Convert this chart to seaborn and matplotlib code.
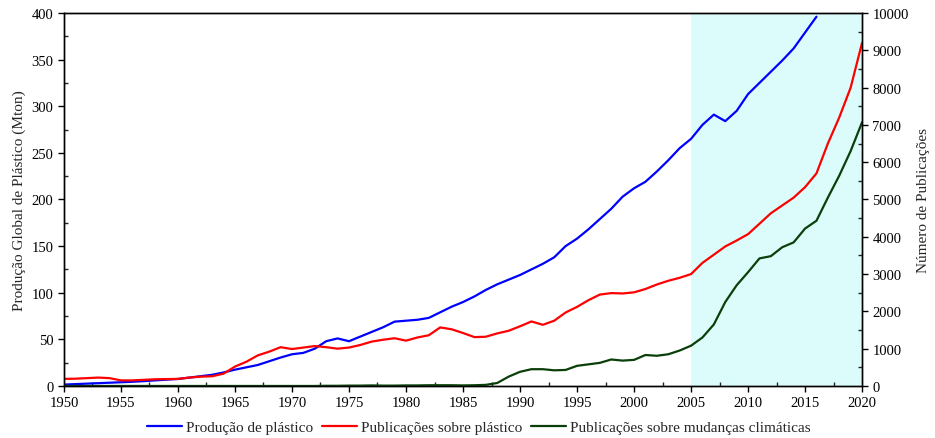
import numpy as np
import pandas as pd
import matplotlib
matplotlib.use("Agg")
import matplotlib.pyplot as plt
from matplotlib.ticker import MultipleLocator
import seaborn as sns

# Global plastic production (Mton), 1950-2016
prod_years = list(range(1950, 2017))
producao = [1.5, 2, 2.5, 3, 3.5, 4, 4.5, 5.2, 6, 6.8, 7.5, 9, 10.5, 12, 14.5, 17.5,
            20, 22.5, 26.5, 30.5, 34, 35.5, 40, 48, 51, 48, 53, 58, 63, 69,
            70, 71, 73, 79, 85, 90, 96, 103, 109, 114, 119, 125, 131, 138, 150, 158,
            168, 179, 190, 203, 212, 219, 230, 242, 255, 265, 280, 291, 284, 295,
            313, 325, 337, 349, 362, 379, 396]

# Publications per year, 1950-2020
pub_years = list(range(1950, 2021))
pub_plastico = [190, 195, 210, 225, 210, 150, 150, 165, 180, 185,
                190, 225, 250, 260, 330, 520, 650, 820, 920, 1040,
                990, 1030, 1070, 1040, 1000, 1030, 1100, 1190, 1240, 1280,
                1215, 1300, 1360, 1570, 1520, 1420, 1310, 1320, 1410, 1480,
                1600, 1730, 1640, 1750, 1970, 2120, 2300, 2450, 2490, 2480,
                2510, 2600, 2720, 2820, 2900, 3000, 3300, 3520, 3740, 3900,
                4070, 4350, 4630, 4840, 5050, 5330, 5700, 6500, 7200, 8000,
                9200]
pub_clima = [0, 0, 0, 0, 0, 0, 0, 0, 0, 0,
             0, 0, 0, 0, 0, 0, 0, 0, 0, 0,
             0, 0, 0, 5, 5, 10, 10, 15, 10, 10,
             15, 15, 20, 20, 20, 15, 20, 30, 80, 250,
             380, 450, 450, 420, 430, 540, 580, 620, 710, 680,
             700, 830, 810, 850, 950, 1080, 1300, 1650, 2250, 2700,
             3050, 3420, 3480, 3720, 3850, 4220, 4430, 5050, 5640, 6300,
             7070]

labels = ["Produção de plástico", "Publicações sobre plástico",
          "Publicações sobre mudanças climáticas"]
colors = ["#0000ff", "#ff0000", "#0a3f0a"]

sns.set_style("ticks")
plt.rcParams["font.family"] = ["Liberation Serif", "DejaVu Serif"]
plt.rcParams["font.size"] = 11

df_prod = pd.DataFrame({"ano": prod_years, "valor": producao})
df_pub = pd.DataFrame({"ano": pub_years, "plastico": pub_plastico, "clima": pub_clima})

fig = plt.figure(figsize=(9.35, 4.39), dpi=100)
ax = fig.add_axes([0.0684, 0.1185, 0.8536, 0.8497])
ax2 = ax.twinx()

ax.axvspan(2005, 2020, color="#dcfcfc", lw=0, zorder=0)

line_kw = dict(lw=1.6, solid_joinstyle="round", solid_capstyle="round")
sns.lineplot(data=df_prod, x="ano", y="valor", ax=ax, color=colors[0],
             label=labels[0], legend=False, **line_kw)
sns.lineplot(data=df_pub, x="ano", y="plastico", ax=ax2, color=colors[1],
             label=labels[1], legend=False, **line_kw)
sns.lineplot(data=df_pub, x="ano", y="clima", ax=ax2, color=colors[2],
             label=labels[2], legend=False, **line_kw)

ax.set_xlim(1950, 2020)
ax.set_ylim(0, 400)
ax2.set_ylim(0, 10000)

ax.xaxis.set_major_locator(MultipleLocator(5))
ax.xaxis.set_minor_locator(MultipleLocator(2.5))
ax.yaxis.set_major_locator(MultipleLocator(50))
ax.yaxis.set_minor_locator(MultipleLocator(25))
ax2.yaxis.set_major_locator(MultipleLocator(1000))
ax2.yaxis.set_minor_locator(MultipleLocator(500))

for a in (ax, ax2):
    for s in a.spines.values():
        s.set_linewidth(1.0)
        s.set_color("black")
    a.tick_params(which="major", direction="out", length=4, width=1, labelsize=10.5, colors="black")
    a.tick_params(which="minor", direction="in", length=3, width=1)

ax.set_xlabel("")
ax.set_ylabel("Produção Global de Plástico (Mton)", fontsize=11, labelpad=4)
ax2.set_ylabel("Número de Publicações", fontsize=11, labelpad=6)

handles = ax.get_lines()[:1] + ax2.get_lines()[:2]
fig.legend(handles, labels, loc="lower center", bbox_to_anchor=(0.512, -0.022), ncol=3,
           frameon=False, fontsize=11, handlelength=2.3, columnspacing=0.6,
           handletextpad=0.25)

fig.savefig("out.png", dpi=100)
